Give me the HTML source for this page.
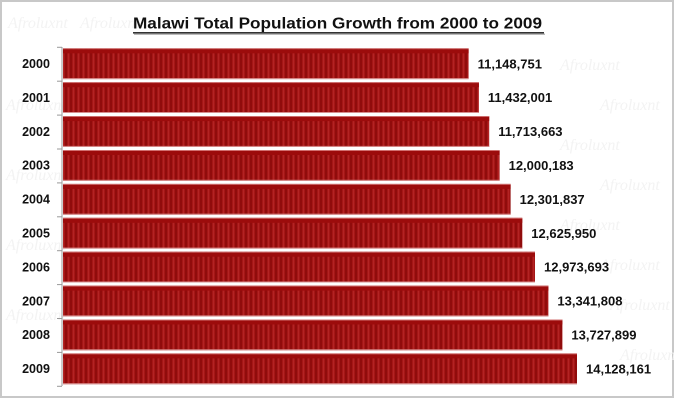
<!DOCTYPE html>
<html><head><meta charset="utf-8"><style>
html,body{margin:0;padding:0;background:#fff;}
svg{display:block;}
</style></head><body>
<svg width="674" height="400" viewBox="0 0 674 400" xmlns="http://www.w3.org/2000/svg" font-family="Liberation Sans, Arial, sans-serif">
<defs>
<pattern id="st" x="0" y="0" width="5" height="40" patternUnits="userSpaceOnUse">
<rect x="0" y="0" width="5" height="40" fill="#a51616"/>
<rect x="0" y="0" width="2" height="40" fill="#900c0c"/>
<rect x="3" y="0" width="1" height="40" fill="#b22424"/>
</pattern>
</defs>
<rect x="0" y="0" width="674" height="400" fill="#fff"/>
<rect x="1" y="1" width="672" height="396" fill="none" stroke="#c8c8c8" stroke-width="2"/>
<g style="font-family:'Liberation Serif',serif;font-style:italic" font-size="16" fill="#f3f3f3">
<text x="8" y="28">Afroluxnt</text><text x="80" y="28">Afroluxnt</text>
<text x="560" y="70">Afroluxnt</text><text x="600" y="110">Afroluxnt</text>
<text x="560" y="150">Afroluxnt</text><text x="600" y="190">Afroluxnt</text>
<text x="560" y="230">Afroluxnt</text><text x="600" y="270">Afroluxnt</text>
<text x="610" y="310">Afroluxnt</text><text x="620" y="360">Afroluxnt</text>
<text x="6" y="110">Afroluxnt</text><text x="6" y="180">Afroluxnt</text>
<text x="6" y="250">Afroluxnt</text><text x="6" y="320">Afroluxnt</text>
</g>
<text x="133" y="28.5" font-size="15.5" font-weight="bold" fill="#111" textLength="409" lengthAdjust="spacingAndGlyphs">Malawi Total Population Growth  from 2000 to 2009</text>
<rect x="133" y="32" width="411" height="1.6" fill="#333"/>
<rect x="134" y="33.6" width="411" height="1.2" fill="#aaa"/>
<line x1="62" y1="47" x2="62" y2="386" stroke="#999" stroke-width="1"/>
<g stroke="#999" stroke-width="1">
<line x1="57" y1="47.3" x2="62" y2="47.3"/>
<line x1="57" y1="81.2" x2="62" y2="81.2"/>
<line x1="57" y1="115.1" x2="62" y2="115.1"/>
<line x1="57" y1="149" x2="62" y2="149"/>
<line x1="57" y1="182.9" x2="62" y2="182.9"/>
<line x1="57" y1="216.8" x2="62" y2="216.8"/>
<line x1="57" y1="250.7" x2="62" y2="250.7"/>
<line x1="57" y1="284.6" x2="62" y2="284.6"/>
<line x1="57" y1="318.5" x2="62" y2="318.5"/>
<line x1="57" y1="352.4" x2="62" y2="352.4"/>
<line x1="57" y1="386.3" x2="62" y2="386.3"/>
</g>
<g id="bars">
<g transform="translate(0,48.3)"><rect x="63" y="0" width="405.6" height="30.8" fill="url(#st)"/><rect x="63" y="0" width="405.6" height="1" fill="#d07070"/><rect x="63" y="1" width="405.6" height="4" fill="#9c0c0c"/><rect x="63" y="29.8" width="405.6" height="1" fill="#d89090"/></g>
<g transform="translate(0,82.2)"><rect x="63" y="0" width="415.9" height="30.8" fill="url(#st)"/><rect x="63" y="0" width="415.9" height="1" fill="#d07070"/><rect x="63" y="1" width="415.9" height="4" fill="#9c0c0c"/><rect x="63" y="29.8" width="415.9" height="1" fill="#d89090"/></g>
<g transform="translate(0,116.1)"><rect x="63" y="0" width="426.2" height="30.8" fill="url(#st)"/><rect x="63" y="0" width="426.2" height="1" fill="#d07070"/><rect x="63" y="1" width="426.2" height="4" fill="#9c0c0c"/><rect x="63" y="29.8" width="426.2" height="1" fill="#d89090"/></g>
<g transform="translate(0,150)"><rect x="63" y="0" width="436.6" height="30.8" fill="url(#st)"/><rect x="63" y="0" width="436.6" height="1" fill="#d07070"/><rect x="63" y="1" width="436.6" height="4" fill="#9c0c0c"/><rect x="63" y="29.8" width="436.6" height="1" fill="#d89090"/></g>
<g transform="translate(0,183.9)"><rect x="63" y="0" width="447.6" height="30.8" fill="url(#st)"/><rect x="63" y="0" width="447.6" height="1" fill="#d07070"/><rect x="63" y="1" width="447.6" height="4" fill="#9c0c0c"/><rect x="63" y="29.8" width="447.6" height="1" fill="#d89090"/></g>
<g transform="translate(0,217.8)"><rect x="63" y="0" width="459.3" height="30.8" fill="url(#st)"/><rect x="63" y="0" width="459.3" height="1" fill="#d07070"/><rect x="63" y="1" width="459.3" height="4" fill="#9c0c0c"/><rect x="63" y="29.8" width="459.3" height="1" fill="#d89090"/></g>
<g transform="translate(0,251.7)"><rect x="63" y="0" width="472.0" height="30.8" fill="url(#st)"/><rect x="63" y="0" width="472.0" height="1" fill="#d07070"/><rect x="63" y="1" width="472.0" height="4" fill="#9c0c0c"/><rect x="63" y="29.8" width="472.0" height="1" fill="#d89090"/></g>
<g transform="translate(0,285.6)"><rect x="63" y="0" width="485.4" height="30.8" fill="url(#st)"/><rect x="63" y="0" width="485.4" height="1" fill="#d07070"/><rect x="63" y="1" width="485.4" height="4" fill="#9c0c0c"/><rect x="63" y="29.8" width="485.4" height="1" fill="#d89090"/></g>
<g transform="translate(0,319.5)"><rect x="63" y="0" width="499.4" height="30.8" fill="url(#st)"/><rect x="63" y="0" width="499.4" height="1" fill="#d07070"/><rect x="63" y="1" width="499.4" height="4" fill="#9c0c0c"/><rect x="63" y="29.8" width="499.4" height="1" fill="#d89090"/></g>
<g transform="translate(0,353.4)"><rect x="63" y="0" width="514.0" height="30.8" fill="url(#st)"/><rect x="63" y="0" width="514.0" height="1" fill="#d07070"/><rect x="63" y="1" width="514.0" height="4" fill="#9c0c0c"/><rect x="63" y="29.8" width="514.0" height="1" fill="#d89090"/></g>
</g>
<g font-size="12.5" font-weight="bold" fill="#111" text-anchor="middle">
<text x="36" y="68">2000</text>
<text x="36" y="101.9">2001</text>
<text x="36" y="135.8">2002</text>
<text x="36" y="169.7">2003</text>
<text x="36" y="203.6">2004</text>
<text x="36" y="237.5">2005</text>
<text x="36" y="271.4">2006</text>
<text x="36" y="305.3">2007</text>
<text x="36" y="339.2">2008</text>
<text x="36" y="373.1">2009</text>
</g>
<g font-size="13" font-weight="bold" fill="#111">
<text x="477.6" y="68.3">11,148,751</text>
<text x="487.9" y="102.2">11,432,001</text>
<text x="498.2" y="136.1">11,713,663</text>
<text x="508.6" y="170">12,000,183</text>
<text x="519.6" y="203.9">12,301,837</text>
<text x="531.3" y="237.8">12,625,950</text>
<text x="544.0" y="271.7">12,973,693</text>
<text x="557.4" y="305.6">13,341,808</text>
<text x="571.4" y="339.5">13,727,899</text>
<text x="586.0" y="373.4">14,128,161</text>
</g>
</svg>
</body></html>
